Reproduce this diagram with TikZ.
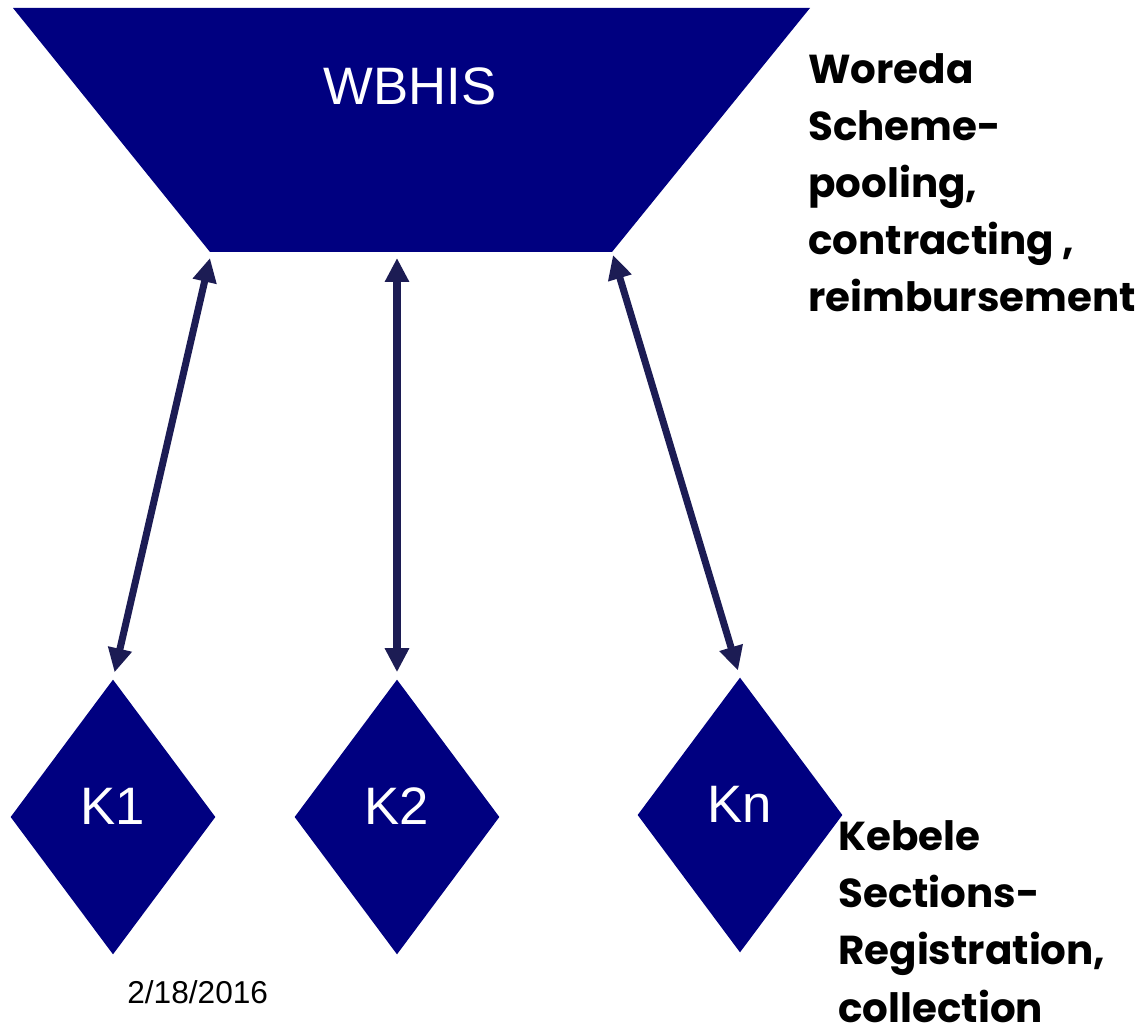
\documentclass[tikz,border=0pt]{standalone}
\usepackage{fontspec}
\setmainfont{Liberation Sans}
\newfontfamily\roundfont{Poppins}
\usetikzlibrary{arrows.meta,shapes.geometric}

\definecolor{schemeblue}{RGB}{0,0,128}
\definecolor{linkblue}{RGB}{28,28,84}

\tikzset{
  kebele/.style={diamond, fill=schemeblue, text=white, inner sep=0pt, text depth=0.44cm,
    minimum width=4.1cm, minimum height=5.5cm, font={\fontsize{30}{36}\selectfont}},
  sidetext/.style={anchor=base west, align=left, inner sep=0pt,
    font={\fontsize{23}{32.5}\selectfont\roundfont\bfseries}},
  link/.style={linkblue, line width=4pt, {Triangle[length=0.48cm,width=0.46cm]}-{Triangle[length=0.48cm,width=0.46cm]}}
}

\begin{document}
\begin{tikzpicture}[x=0.02cm, y=-0.02cm]
        \useasboundingbox (0,0) rectangle (1136,1026);

        \fill[schemeblue] (13,8) -- (810,8) -- (612,252) -- (210,252) -- cycle;
        \node[white, font={\fontsize{30}{36}\selectfont}, anchor=base] (wbhis) at (410,105) {WBHIS};

        \coordinate (w1) at (210,258);
        \coordinate (w2) at (397,258);
        \coordinate (wn) at (613,255);


        \node[kebele] (k1) at (113,817) {K1};


        \node[kebele] (k2) at (397,817) {K2};


        \node[kebele] (kn) at (740,815) {Kn};


        \draw[link, shorten >=7*0.02cm] (w1) -- (k1.north);
        \draw[link, shorten >=7*0.02cm] (w2) -- (k2.north);
        \draw[link, shorten >=7*0.02cm] (wn) -- (kn.north);


        \node[sidetext] (woreda) at (808,312) {Woreda\\Scheme-\\pooling,\\contracting ,\\reimbursement};

        \node[sidetext] (kebeletext) at (838,1022) {Kebele\\Sections-\\Registration,\\collection};


        \node[font={\fontsize{18}{22}\selectfont}, anchor=base west, inner sep=0pt] (date) at (127,1003) {2/18/2016};
    \end{tikzpicture}
\end{document}
